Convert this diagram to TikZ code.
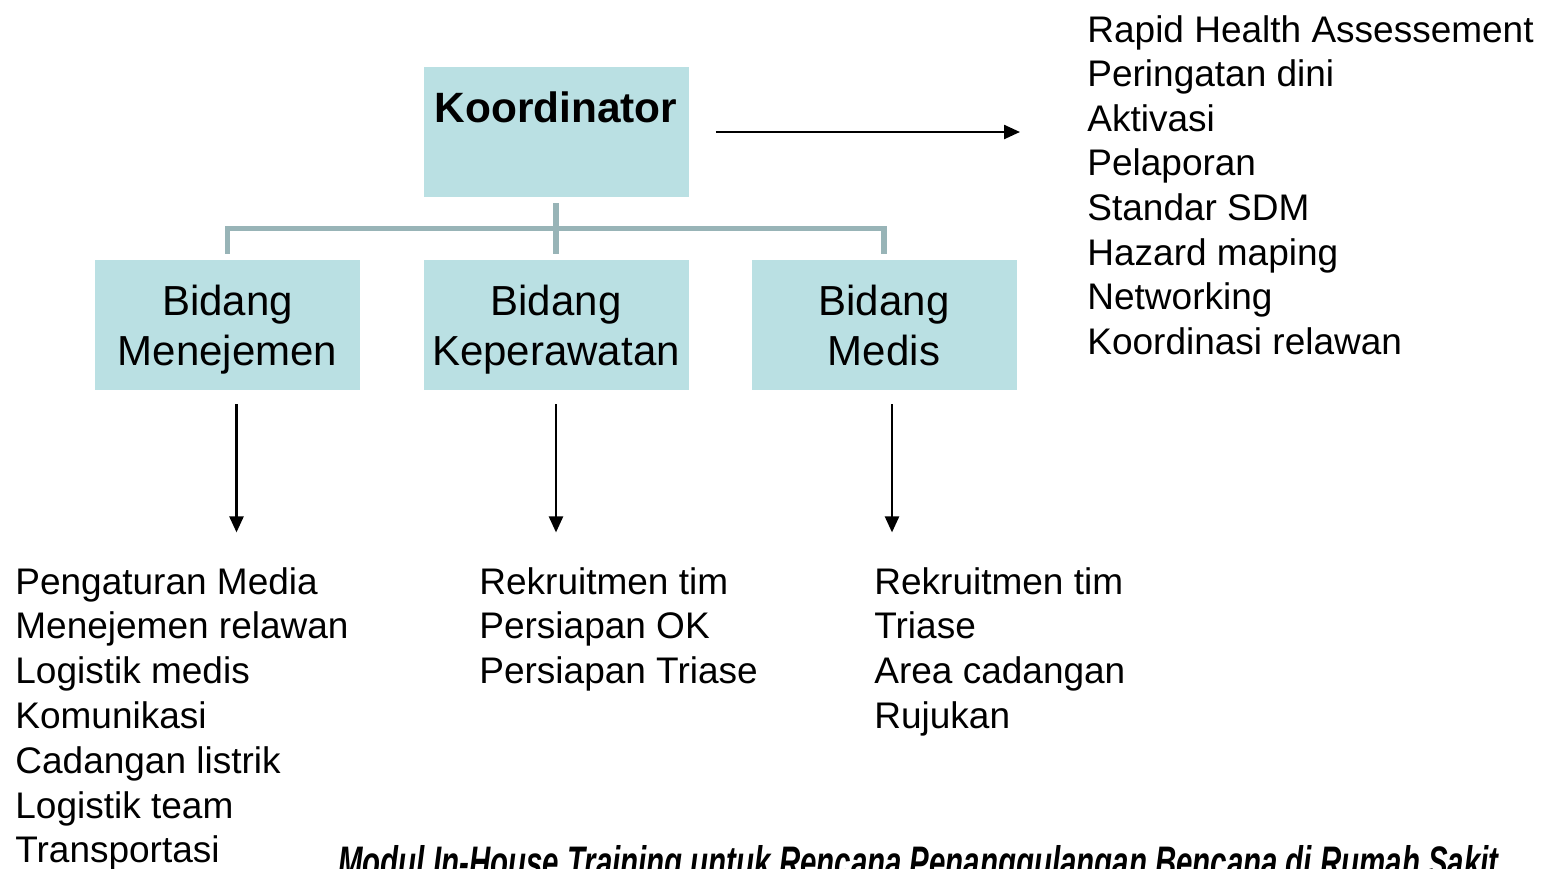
\documentclass[tikz,border=0pt]{standalone}
\usepackage{fontspec}
\setmainfont{Liberation Sans}
\usetikzlibrary{positioning,arrows.meta,calc}
\usepackage{xcolor}

\definecolor{boxfill}{RGB}{186,224,227}
\definecolor{linkgray}{RGB}{152,180,183}

\begin{document}
\begin{tikzpicture}[x=0.5pt, y=-0.5pt, font=\fontsize{18.5}{22}\selectfont]

\tikzset{
  unit/.style={fill=boxfill, minimum width=132.5pt, minimum height=65pt, inner sep=0pt},
  unittext/.style={align=center, inner sep=0pt, font=\fontsize{21}{25}\selectfont},
  item/.style={anchor=base west, inner sep=0pt},
  link/.style={draw=linkgray, line width=2.8pt},
  flow/.style={-{Triangle[length=8pt,width=7pt]}, line width=1.2pt}
}

\useasboundingbox (0,0) rectangle (1546,868);

% Koordinator box with its title near the top
\node[unit] (koor) at (556,132) {};
\node[anchor=base, inner sep=0pt, font=\fontsize{21.2}{25}\selectfont\bfseries] (koortitle) at ($(koor.north)+(0,56)$) {Koordinator};

% the three Bidang boxes
\foreach \b/\x/\name in {menej/227.5/Menejemen, kep/556/Keperawatan, medis/884/Medis} {
    \node[unit] (\b) at (\x,325) {};
    \node[unittext, yshift=-2.5pt] (\b-title) at (\b) {\strut Bidang\\\strut \name};
}

% tree links
\draw[link] ($(koor.south)+(0,6)$) -- ($(kep.north)+(0,-6)$);
\draw[link] ($(menej.north)+(0,-6)$) |- ($(koor.south)!0.5!(kep.north)$) -| ($(medis.north)+(0,-6)$);

% arrow to the coordinator tasks
\coordinate (rhaend) at (1020,132);
\draw[flow, shorten <=13.5pt] (koor.east) -- (rhaend);

% coordinator tasks
\foreach \i/\txt in {0/Rapid Health Assessement, 1/Peringatan dini, 2/Aktivasi, 3/Pelaporan,
                     4/Standar SDM, 5/Hazard maping, 6/Networking, 7/Koordinasi relawan} {
    \node[item] (rha\i) at (1087,{42+44.6*\i}) {\txt};
}

% arrows down from the Bidang boxes
\foreach \b/\dx in {menej/9, kep/0, medis/8} {
    \coordinate (\b-end) at ($(\b.south)+(\dx,142)$);
    \draw[flow] ($(\b.south)+(\dx,14)$) -- (\b-end);
}

% tasks per Bidang
\foreach \i/\txt in {0/Pengaturan Media, 1/Menejemen relawan, 2/Logistik medis, 3/Komunikasi,
                     4/Cadangan listrik, 5/Logistik team, 6/Transportasi} {
    \node[item] (mj\i) at (15,{594+44.8*\i}) {\txt};
}
\foreach \i/\txt in {0/Rekruitmen tim, 1/Persiapan OK, 2/Persiapan Triase} {
    \node[item] (kp\i) at (479,{594+44.8*\i}) {\txt};
}
\foreach \i/\txt in {0/Rekruitmen tim, 1/Triase, 2/Area cadangan, 3/Rujukan} {
    \node[item] (md\i) at (874,{594+44.8*\i}) {\txt};
}

% footer
\node[item] (footer) at (338,877) {\resizebox{580pt}{16pt}{\bfseries\itshape Modul In-House Training untuk Rencana Penanggulangan Bencana di Rumah Sakit}};

\end{tikzpicture}
\end{document}
